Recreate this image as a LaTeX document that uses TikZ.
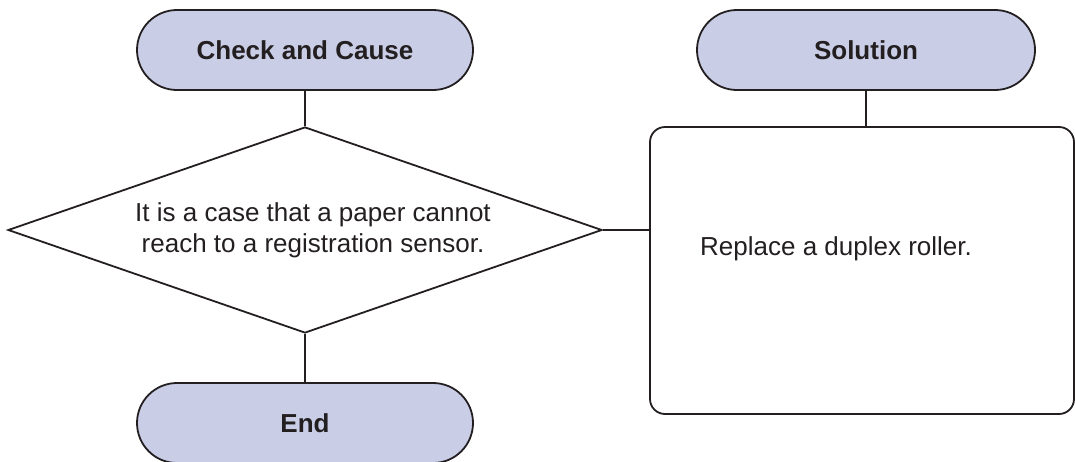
\documentclass[tikz,border=0pt]{standalone}
\usepackage{fontspec}
\setmainfont{Liberation Sans}
\usepackage{tikz}
\usetikzlibrary{shapes.geometric, shapes.misc, positioning, calc}
\definecolor{termfill}{HTML}{C9CDE6}
\definecolor{ink}{HTML}{231F20}

\begin{document}
\begin{tikzpicture}[x=1pt, y=-1pt,
  term/.style={rounded rectangle, draw=ink, fill=termfill, line width=1.8pt, minimum height=80pt, inner sep=0pt, font=\fontsize{26}{31}\selectfont\bfseries, text=ink},
  decision/.style={diamond, aspect=2.9, draw=ink, line width=1.8pt, minimum width=594pt, minimum height=206pt, inner sep=0pt, align=center, font=\fontsize{26}{31}\selectfont, text=ink},
  box/.style={rectangle, draw=ink, rounded corners=15pt, line width=1.8pt, minimum width=424pt, minimum height=287pt},
  conn/.style={draw=ink, line width=1.8pt},
]
\useasboundingbox (0,0) rectangle (1075,461);
% Check side
\node[term, minimum width=336pt] (cause) at (305,50) {Check and Cause};
\node[decision] (check) at (305,230) {\hspace*{16pt}It is a case that a paper cannot\\\hspace*{16pt}reach to a registration sensor.};
\node[term, minimum width=336pt] (finish) at (305,423) {End};
% Solution side
\node[term, minimum width=338pt] (sol) at (866,50) {Solution};
\node[box] (fix) at (862,270.5) {};
\node[anchor=west, inner sep=0pt, font=\fontsize{26}{31}\selectfont, text=ink] (fixtext) at (700,249) {Replace a duplex roller.};

% Connectors
\draw[conn] (cause) -- (check);
\draw[conn] (check) -- (finish);
\draw[conn] (check.east) -- (check.east -| fix.west);
\draw[conn] (sol.south) -- (sol.south |- fix.north);
\end{tikzpicture}
\end{document}
